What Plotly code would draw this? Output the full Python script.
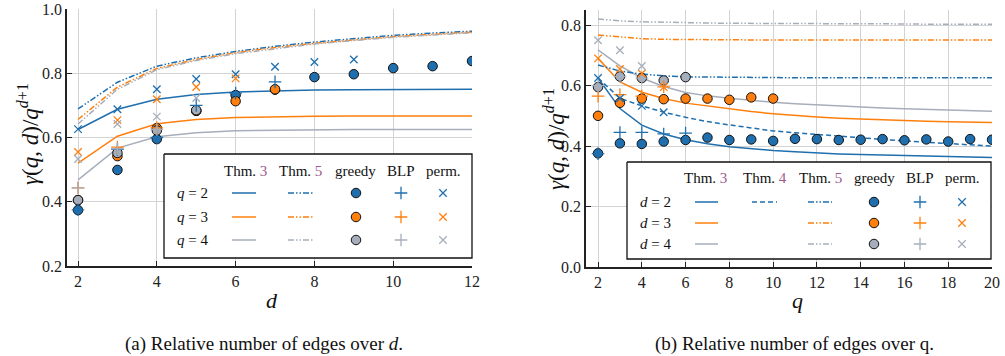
import plotly.graph_objects as go

W, H = 1005, 356
BLUE = "#1f6fae"
ORANGE = "#ff7f0e"
GRAY = "#a6aebb"
PURPLE = "#9d5a8c"
FONT = "Liberation Serif, DejaVu Serif, Times New Roman, serif"
COLORS = [BLUE, ORANGE, GRAY]

# ---------------- (a) values over d ----------------
d_vals = [2, 3, 4, 5, 6, 7, 8, 9, 10, 11, 12]
a_thm3_q2 = [0.625, 0.688, 0.719, 0.734, 0.742, 0.746, 0.748, 0.749, 0.750, 0.750, 0.750]
a_thm3_q3 = [0.520, 0.604, 0.643, 0.656, 0.662, 0.665, 0.666, 0.667, 0.667, 0.667, 0.667]
a_thm3_q4 = [0.468, 0.567, 0.602, 0.615, 0.621, 0.623, 0.624, 0.625, 0.625, 0.625, 0.625]
a_thm5_q2 = [0.689, 0.772, 0.822, 0.848, 0.868, 0.884, 0.897, 0.908, 0.918, 0.925, 0.931]
a_thm5_q3 = [0.656, 0.757, 0.815, 0.843, 0.864, 0.880, 0.893, 0.904, 0.914, 0.921, 0.928]
a_thm5_q4 = [0.642, 0.750, 0.811, 0.840, 0.861, 0.877, 0.891, 0.902, 0.912, 0.919, 0.926]
a_greedy_q2 = [0.374, 0.499, 0.595, 0.683, 0.732, 0.749, 0.788, 0.797, 0.816, 0.822, 0.838]
a_greedy_q3 = [0.405, 0.542, 0.629, 0.683, 0.713, 0.750]
a_greedy_q4 = [0.405, 0.552, 0.622, 0.685]
a_blp_q2 = [0.375, 0.563, 0.600, 0.700, 0.738, 0.773]
a_blp_q3 = [0.443, 0.570, 0.630]
a_blp_q4 = [0.443, 0.565, 0.625]
a_perm_q2 = [0.626, 0.688, 0.750, 0.782, 0.797, 0.820, 0.835, 0.843]
a_perm_q3 = [0.555, 0.654, 0.719, 0.757, 0.784]
a_perm_q4 = [0.533, 0.642, 0.665, 0.723]

# ---------------- (b) values over q ----------------
q_vals = list(range(2, 21))
b_thm3_d2 = [0.625, 0.524, 0.469, 0.440, 0.421, 0.408, 0.398, 0.391, 0.385, 0.381, 0.377, 0.374, 0.372, 0.370, 0.368, 0.366, 0.365, 0.363, 0.362]
b_thm3_d3 = [0.690, 0.612, 0.578, 0.557, 0.542, 0.532, 0.522, 0.514, 0.507, 0.501, 0.496, 0.492, 0.489, 0.486, 0.484, 0.482, 0.480, 0.479, 0.478]
b_thm3_d4 = [0.718, 0.665, 0.625, 0.597, 0.577, 0.566, 0.558, 0.551, 0.545, 0.540, 0.536, 0.532, 0.529, 0.526, 0.523, 0.521, 0.519, 0.517, 0.515]
b_thm4_d2 = [0.625, 0.558, 0.533, 0.512, 0.495, 0.481, 0.470, 0.459, 0.450, 0.444, 0.438, 0.432, 0.427, 0.422, 0.417, 0.412, 0.408, 0.404, 0.400]
b_thm5_d2 = [0.668, 0.648, 0.638, 0.632, 0.629, 0.628, 0.627, 0.627, 0.626, 0.626, 0.626, 0.626, 0.626, 0.626, 0.626, 0.626, 0.626, 0.626, 0.626]
b_thm5_d3 = [0.767, 0.760, 0.755, 0.753, 0.752, 0.751, 0.751, 0.751, 0.751, 0.751, 0.751, 0.751, 0.751, 0.751, 0.751, 0.751, 0.751, 0.751, 0.751]
b_thm5_d4 = [0.820, 0.814, 0.811, 0.809, 0.808, 0.807, 0.806, 0.806, 0.805, 0.805, 0.805, 0.804, 0.804, 0.804, 0.804, 0.803, 0.803, 0.803, 0.803]
b_greedy_d2 = [0.376, 0.409, 0.407, 0.415, 0.420, 0.428, 0.420, 0.422, 0.417, 0.424, 0.423, 0.420, 0.421, 0.423, 0.419, 0.422, 0.415, 0.423, 0.421]
b_greedy_d3 = [0.500, 0.543, 0.557, 0.555, 0.557, 0.557, 0.553, 0.561, 0.557]
b_greedy_d4 = [0.595, 0.630, 0.625, 0.617, 0.628]
b_blp_d2 = [0.375, 0.445, 0.445, 0.440, 0.443]
b_blp_d3 = [0.565, 0.570, 0.565, 0.596]
b_blp_d4 = [0.600, 0.630, 0.625]
b_perm_d2 = [0.625, 0.558, 0.533, 0.512]
b_perm_d3 = [0.690, 0.655, 0.640, 0.595]
b_perm_d4 = [0.750, 0.717, 0.665]

a_x_ticks = [2, 4, 6, 8, 10, 12]
a_y_ticks = [0.2, 0.4, 0.6, 0.8, 1.0]
b_x_ticks = [2, 4, 6, 8, 10, 12, 14, 16, 18, 20]
b_y_ticks = [0.0, 0.2, 0.4, 0.6, 0.8]

DASHDOT = "6px,2px,1.5px,2px,1.5px,2px"
DASHED = "5px,3px"

fig = go.Figure()


def marker_style(kind, color):
    if kind == "greedy":
        return dict(symbol="circle", size=9.5, color=color, line=dict(color="#111111", width=1))
    if kind == "blp":
        return dict(symbol="cross-thin", size=9, color=color, line=dict(color=color, width=1.3))
    return dict(symbol="x-thin", size=7.5, color=color, line=dict(color=color, width=1.3))


def line(x, y, color, dash, xa, ya):
    fig.add_trace(go.Scatter(x=x, y=y, mode="lines", line=dict(color=color, width=1.5, dash=dash),
                             xaxis=xa, yaxis=ya, showlegend=False, hoverinfo="skip"))


def pts(x, y, color, kind, xa, ya):
    fig.add_trace(go.Scatter(x=x, y=y, mode="markers", marker=marker_style(kind, color), xaxis=xa, yaxis=ya,
                             showlegend=False, hoverinfo="skip"))


# panel (a)
for y, c in zip([a_thm3_q2, a_thm3_q3, a_thm3_q4], COLORS):
    line(d_vals, y, c, "solid", "x", "y")
for y, c in zip([a_thm5_q2, a_thm5_q3, a_thm5_q4], COLORS):
    line(d_vals, y, c, DASHDOT, "x", "y")
for y, c in zip([a_greedy_q2, a_greedy_q3, a_greedy_q4], COLORS):
    pts(d_vals[:len(y)], y, c, "greedy", "x", "y")
for y, c in zip([a_blp_q2, a_blp_q3, a_blp_q4], COLORS):
    pts(d_vals[:len(y)], y, c, "blp", "x", "y")
for y, c in zip([a_perm_q2, a_perm_q3, a_perm_q4], COLORS):
    pts(d_vals[:len(y)], y, c, "perm", "x", "y")

# panel (b)
for y, c in zip([b_thm3_d2, b_thm3_d3, b_thm3_d4], COLORS):
    line(q_vals, y, c, "solid", "x2", "y2")
line(q_vals, b_thm4_d2, BLUE, DASHED, "x2", "y2")
for y, c in zip([b_thm5_d2, b_thm5_d3, b_thm5_d4], COLORS):
    line(q_vals, y, c, DASHDOT, "x2", "y2")
for y, c in zip([b_greedy_d2, b_greedy_d3, b_greedy_d4], COLORS):
    pts(q_vals[:len(y)], y, c, "greedy", "x2", "y2")
for y, c in zip([b_blp_d2, b_blp_d3, b_blp_d4], COLORS):
    pts(q_vals[:len(y)], y, c, "blp", "x2", "y2")
for y, c in zip([b_perm_d2, b_perm_d3, b_perm_d4], COLORS):
    pts(q_vals[:len(y)], y, c, "perm", "x2", "y2")

# ---------------- legend tables (pixel layout on an overlay axis) ----------------
annotations = []


def txt(x, y, s, size=15, **kw):
    annotations.append(dict(x=x / W, y=1 - y / H, xref="paper", yref="paper", text=s, showarrow=False,
                            xanchor="center", yanchor="middle",
                            font=dict(family=FONT, size=size, color="#111111"), **kw))


def thm(n):
    return f"Thm. <span style='color:{PURPLE}'>{n}</span>"


def legend_box(box, header_y, cols, headers, rows_y, row_labels, label_x, glyphs):
    l, t, r, b = box
    fig.add_trace(go.Scatter(x=[l, r, r, l, l], y=[t, t, b, b, t], mode="lines", fill="toself",
                             fillcolor="white", line=dict(color="#111111", width=1.3),
                             xaxis="x3", yaxis="y3", showlegend=False, hoverinfo="skip"))
    for cx, h in zip(cols, headers):
        txt(cx, header_y, h)
    for ry, lab in zip(rows_y, row_labels):
        txt(label_x, ry, lab)
    for (kind, x0, x1, dash, rows_used) in glyphs:
        for i in rows_used:
            ry, c = rows_y[i], COLORS[i]
            if kind == "line":
                fig.add_trace(go.Scatter(x=[x0, x1], y=[ry, ry], mode="lines",
                                         line=dict(color=c, width=1.5, dash=dash),
                                         xaxis="x3", yaxis="y3", showlegend=False, hoverinfo="skip"))
            else:
                fig.add_trace(go.Scatter(x=[x0], y=[ry], mode="markers", marker=marker_style(kind, c),
                                         xaxis="x3", yaxis="y3", showlegend=False, hoverinfo="skip"))


legend_box((164, 154, 472, 258), 171, [245, 300, 355, 401, 443],
           [thm(3), thm(5), "greedy", "BLP", "perm."], [193, 217, 240],
           ["<i>q</i> = 2", "<i>q</i> = 3", "<i>q</i> = 4"], 192,
           [("line", 232, 256, "solid", [0, 1, 2]), ("line", 288, 313, DASHDOT, [0, 1, 2]),
            ("greedy", 356, None, None, [0, 1, 2]), ("blp", 401, None, None, [0, 1, 2]),
            ("perm", 443, None, None, [0, 1, 2])])

legend_box((627, 162, 991, 259), 178, [705, 765, 820, 874, 920, 962],
           [thm(3), thm(4), thm(5), "greedy", "BLP", "perm."], [202, 223, 244],
           ["<i>d</i> = 2", "<i>d</i> = 3", "<i>d</i> = 4"], 655,
           [("line", 695, 718, "solid", [0, 1, 2]), ("line", 752, 777, DASHED, [0]),
            ("line", 808, 832, DASHDOT, [0, 1, 2]),
            ("greedy", 874, None, None, [0, 1, 2]), ("blp", 920, None, None, [0, 1, 2]),
            ("perm", 962, None, None, [0, 1, 2])])

# axis titles and captions
ytitle = "<i>γ</i>(<i>q</i>, <i>d</i>)/<i>q</i><sup><i>d</i>+1</sup>"
txt(29, 134, ytitle, size=23, textangle=-90)
txt(554, 139, ytitle, size=23, textangle=-90)
txt(272, 300, "<i>d</i>", size=22)
txt(797, 300, "<i>q</i>", size=22)
txt(264, 344, "(a) Relative number of edges over <i>d</i>.", size=19)
txt(794, 344, "(b) Relative number of edges over q.", size=19)

axis_common = dict(showline=True, linecolor="#222222", linewidth=1.5, showgrid=True,
                   gridcolor="#d3d3d3", gridwidth=1, ticks="inside", ticklen=5, tickwidth=1.2,
                   tickcolor="#222222", zeroline=False, mirror=False, automargin=False,
                   ticklabeloverflow="allow",
                   tickfont=dict(family=FONT, size=16, color="#222222"))

fig.update_layout(
    width=W, height=H, autosize=False,
    margin=dict(l=0, r=0, t=0, b=0, pad=0),
    paper_bgcolor="white", plot_bgcolor="rgba(0,0,0,0)",
    showlegend=False,
    font=dict(family=FONT),
    xaxis=dict(domain=[67 / W, 472 / W], range=[1.72, 12], anchor="y", tickvals=a_x_ticks,
               ticktext=[str(v) for v in a_x_ticks], **axis_common),
    yaxis=dict(domain=[1 - 266 / H, 1 - 9 / H], range=[0.2, 1.0], anchor="x", tickvals=a_y_ticks,
               ticktext=[f"{v:.1f}" for v in a_y_ticks], **axis_common),
    xaxis2=dict(domain=[586 / W, 992 / W], range=[1.45, 20], anchor="y2", tickvals=b_x_ticks,
                ticktext=[str(v) for v in b_x_ticks], **axis_common),
    yaxis2=dict(domain=[1 - 267 / H, 1 - 10 / H], range=[0, 0.85], anchor="x2", tickvals=b_y_ticks,
                ticktext=[f"{v:.1f}" for v in b_y_ticks], **axis_common),
    xaxis3=dict(domain=[0, 1], range=[0, W], anchor="y3", visible=False, fixedrange=True, automargin=False),
    yaxis3=dict(domain=[0, 1], range=[H, 0], anchor="x3", visible=False, fixedrange=True, automargin=False),
    annotations=annotations,
)

fig.write_html("out.html", config={"displayModeBar": False},
               post_script="document.body.style.margin='0';document.body.style.overflow='hidden';")
